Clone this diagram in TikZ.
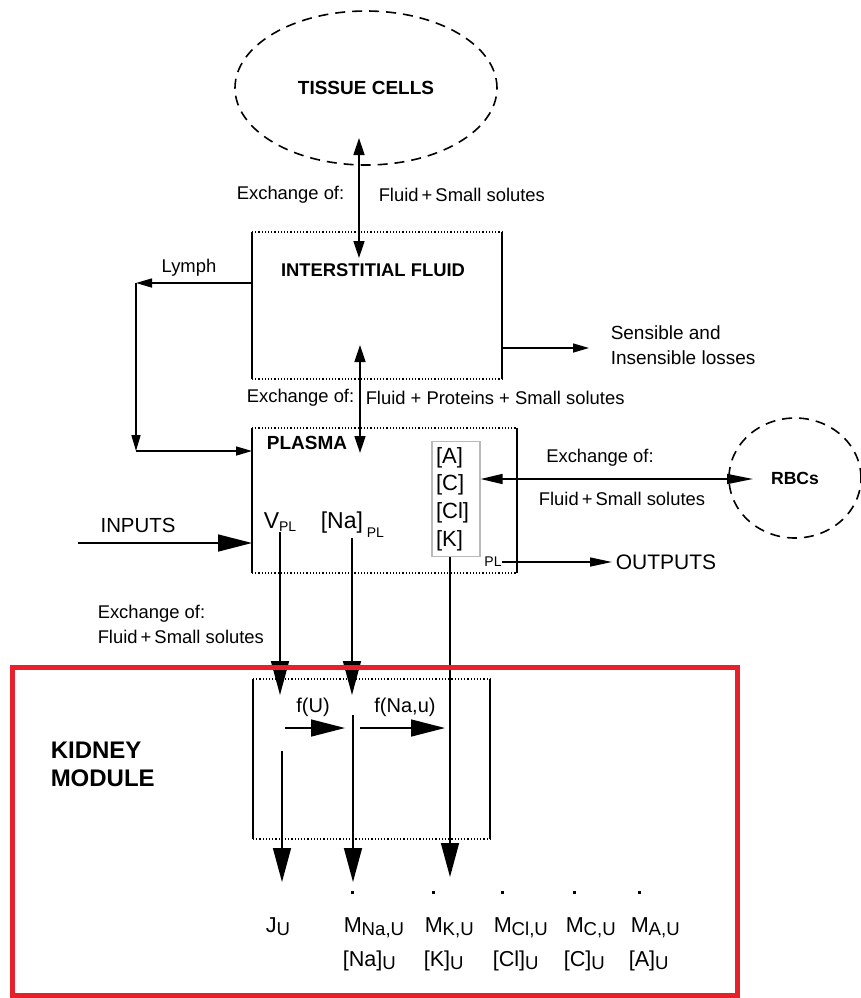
\documentclass[tikz,border=0pt]{standalone}
\usepackage{fontspec}
\setmainfont{Liberation Sans}
\usetikzlibrary{arrows.meta,shapes.geometric}
\definecolor{framered}{RGB}{232,32,42}
\newcommand{\txtsub}[2][\fontsize{9.3}{10}\selectfont]{\raisebox{-0.3ex}{#1#2}}
\newcommand{\mflux}[1]{\rlap{\hspace{0.33em}\raisebox{1.75em}{\rule{1.7pt}{1.7pt}}}M\txtsub{#1}}
\tikzset{
  cell/.style={ellipse,draw,dash pattern=on 5pt off 3.5pt,line width=0.8pt,inner sep=0pt,font=\bfseries\fontsize{9.5}{11}\selectfont},
  box/.style={inner sep=0pt,outer sep=0pt},
  boxlbl/.style={inner sep=0pt,font=\bfseries\fontsize{9.2}{11}\selectfont},
  lbl/.style={inner sep=0pt,font=\fontsize{9.2}{12.5}\selectfont},
  vlbl/.style={inner sep=0pt,font=\fontsize{10.8}{12}\selectfont},
  big/.style={-{Triangle[length=17pt,width=9pt]}},
  mid/.style={-{Triangle[length=17pt,width=8.5pt]}},
  small/.style={-{Triangle[length=8pt,width=4.5pt]}},
  dsmall/.style={{Triangle[length=8.5pt,width=5.5pt]}-{Triangle[length=8.5pt,width=5.5pt]}},
  dmid/.style={{Triangle[length=11pt,width=5pt]}-{Triangle[length=13pt,width=5pt]}}
}
\begin{document}
\begin{tikzpicture}[x=0.5pt,y=-0.5pt,line width=0.75pt]
\useasboundingbox (0,0) rectangle (861,998);
\node[cell,minimum width=131pt,minimum height=77pt] (tissue) at (366,88) {TISSUE CELLS};
\node[cell,minimum width=66pt,minimum height=60pt,font=\bfseries\fontsize{8.8}{10}\selectfont] (rbc) at (795,478) {RBCs};
\node[box,minimum width=125pt,minimum height=73.5pt] (isf) at (377,305.5) {};
\node[box,minimum width=132.5pt,minimum height=72.5pt] (plasma) at (384.5,500.5) {};
\node[box,minimum width=118.5pt,minimum height=80pt] (kid) at (371.5,759) {};
\foreach \b in {isf,plasma,kid}{
  \draw[densely dotted,line width=0.6pt] (\b.north west) -- (\b.north east) (\b.south west) -- (\b.south east);
  \draw (\b.north west) -- (\b.south west) (\b.north east) -- (\b.south east);}
\node[boxlbl] (isflbl) at (373,270) {INTERSTITIAL FLUID};
\node[boxlbl,font=\bfseries\fontsize{9.5}{11}\selectfont] (plbl) at (307,443) {PLASMA};
\node[anchor=west,align=left,inner sep=0pt,font=\bfseries\fontsize{12}{14}\selectfont] (kidlbl) at (50,764) {KIDNEY\\MODULE};
\node[draw=gray!55,line width=0.6pt,align=left,text width=20pt,inner xsep=2pt,inner ysep=3pt,font=\fontsize{11}{13.8}\selectfont] (conc) at (456,499) {[A]\\{[C]}\\{[Cl]}\\{[K]}};
% exchange labels
\node[lbl,anchor=east] (ex1) at (345,195) {Exchange of:};
\node[lbl,anchor=west] (fl1) at (378,195) {Fluid\,+\,Small solutes};
\node[lbl,anchor=east] (ex2) at (355,398) {Exchange of:};
\node[lbl,anchor=west] (fl2) at (365,398) {Fluid + Proteins + Small solutes};
\node[lbl] (ex3) at (600,458) {Exchange of:};
\node[lbl] (fl3) at (622,499) {Fluid\,+\,Small solutes};
\node[lbl,anchor=west,align=left] (ex4) at (97,624.5) {Exchange of:\\Fluid\,+\,Small solutes};
\node[lbl,anchor=west,align=left,font=\fontsize{9.5}{12.5}\selectfont] (loss) at (610,345) {Sensible and\\Insensible losses};
\node[lbl] (lymph) at (189,268) {Lymph};
\node[lbl,font=\fontsize{10.2}{12}\selectfont] (inlbl) at (138,525) {INPUTS};
\node[lbl,anchor=west,font=\fontsize{10.5}{12}\selectfont] (outp) at (615,562) {OUTPUTS};
\node[lbl,font=\fontsize{7}{8}\selectfont] (plsub) at (493,562) {PL};
\node[vlbl,anchor=base west,font=\fontsize{11.5}{13}\selectfont] (vpl) at (263,528) {V\txtsub[\scriptsize]{PL}};
\node[vlbl,anchor=base west,font=\fontsize{11.5}{13}\selectfont] (napl) at (320,528) {[Na]\,\raisebox{-4.5pt}{\scriptsize PL}};
\node[lbl,font=\fontsize{10}{12}\selectfont] (fu) at (313,707) {f(U)};
\node[lbl,font=\fontsize{10}{12}\selectfont] (fna) at (405,707) {f(Na,u)};
% urine outputs
\node[vlbl,anchor=base west] (ju) at (265,932) {J\txtsub{U}};
\foreach \n/\s/\x in {mna/Na/343, mk/K/424, mcl/Cl/493, mc/C/565, ma/A/630}
  \node[vlbl,anchor=base west] (\n) at (\x,932) {\mflux{\s,U}};
\foreach \n/\s/\x in {cna/Na/342, ck/K/423, ccl/Cl/492, cc/C/563, ca/A/628}
  \node[vlbl,anchor=base west] (\n) at (\x,966) {[\s]\txtsub{U}};
% connectors
\coordinate (tc) at (359,138); \coordinate (ic) at (359,258);
\draw[dsmall] (tc) -- (ic);
\coordinate (ly1) at (136,283); \coordinate (ly2) at (136,451);
\draw[small] (isf.west |- ly1) -- (ly1);
\draw[small] (ly1) -- (ly2);
\draw[small] (ly2) -- (plasma.west |- ly2);
\draw[small] (isf.east |- 0,348) -- ([xshift=-10.5pt]loss.west |- 0,348);
\coordinate (pu) at (360,345); \coordinate (pd) at (360,453);
\draw[dsmall] (pd) -- (pu);
\coordinate (inp) at (78,543);
\draw[mid] (inp) -- (plasma.west |- inp);
\coordinate (rbcin) at (753,479);
\draw[dmid] (conc.east |- rbcin) -- (rbcin);
\draw[-{Triangle[length=11pt,width=4.5pt]}] (plsub.east) -- ([xshift=-1.5pt]outp.west);
\coordinate (vin) at (280,695); \coordinate (nain) at (352,695);
\draw[big] (vin |- vpl.south) -- (vin);
\draw[big] (nain |- napl.south) -- (nain);
\coordinate (kout) at (450,877);
\draw[big] (kout |- conc.south) -- (kout);
\coordinate (jtop) at (282,751); \coordinate (jout) at (282,882);
\draw[big] (jtop) -- (jout);
\coordinate (natop) at (353,715); \coordinate (naout) at (353,882);
\draw[big] (natop) -- (naout);
\coordinate (f1a) at (285,728); \coordinate (f1b) at (345,728);
\coordinate (f2a) at (360,728); \coordinate (f2b) at (445,728);
\draw[mid] (f1a) -- (f1b);
\draw[mid] (f2a) -- (f2b);
\draw[framered,line width=2.5pt] (12,667) rectangle (737,995);
\end{tikzpicture}
\end{document}
